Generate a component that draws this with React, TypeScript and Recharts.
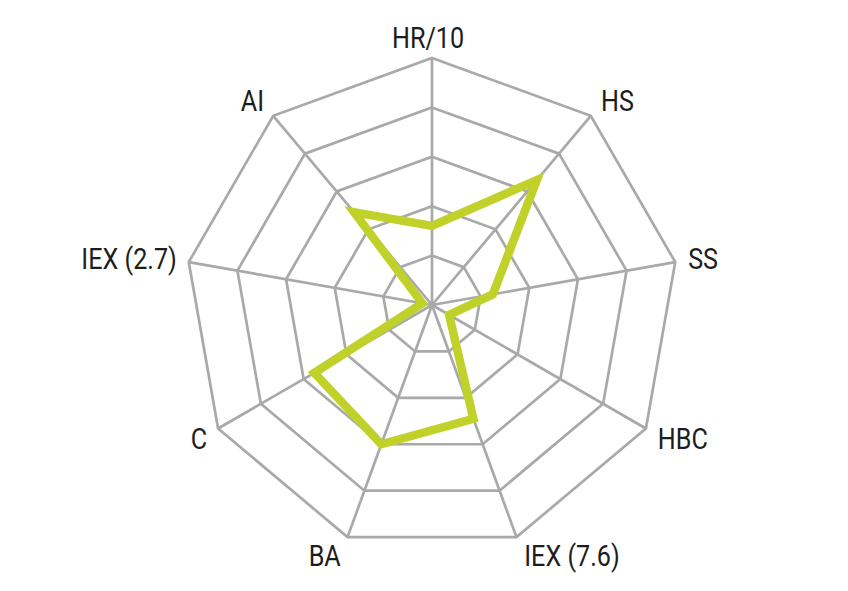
import { RadarChart, Radar, PolarGrid, PolarAngleAxis, PolarRadiusAxis } from "recharts";

const AXES = ["HR/10", "HS", "SS", "HBC", "IEX (7.6)", "BA", "C", "IEX (2.7)", "AI"];
const VALUES = [1.6, 3.3, 1.25, 0.4, 2.45, 3.0, 2.75, 0.2, 2.45];

const CX = 432;
const CY = 305;
const RADIUS = 247;
const LINE_COLOR = "#c0d22a";
const GRID_COLOR = "#a9a9a9";

const data = AXES.map((axis, i) => ({ axis, value: VALUES[i] }));

// condensed look: the reference uses a narrow grotesque, squeeze Roboto a bit
function AxisLabel(props: any) {
  const { x, y, payload, textAnchor } = props;
  const dx = x - CX;
  const dy = y - CY;
  const len = Math.sqrt(dx * dx + dy * dy) || 1;
  const ux = dx / len;
  const uy = dy / len;
  const shiftX = textAnchor === "middle" ? -4 : ux > 0 ? 5 : -4;
  const shiftY = uy * 12;
  return (
    <g transform={`translate(${x + shiftX},${y + shiftY}) scale(0.84,1)`}>
      <text
        x={0}
        y={0}
        textAnchor={textAnchor}
        dominantBaseline="central"
        fontSize={30}
        fontFamily="Roboto, sans-serif"
        fill="#1d1d1d"
      >
        {payload.value}
      </text>
    </g>
  );
}

export default function App() {
  return (
    <div style={{ position: "absolute", left: 0, top: 0, background: "#fff" }}>
      <RadarChart width={848} height={591} data={data} cx={CX} cy={CY} outerRadius={RADIUS}>
        <PolarGrid gridType="polygon" stroke={GRID_COLOR} strokeWidth={2.7} strokeOpacity={1} />
        <PolarAngleAxis dataKey="axis" tick={AxisLabel} tickLine={false} axisLine={false} />
        <PolarRadiusAxis domain={[0, 5]} tickCount={6} tick={false} axisLine={false} />
        <Radar
          dataKey="value"
          stroke={LINE_COLOR}
          strokeWidth={8.5}
          strokeLinejoin="miter"
          fill="none"
          fillOpacity={0}
          dot={false}
          isAnimationActive={false}
        />
      </RadarChart>
    </div>
  );
}
